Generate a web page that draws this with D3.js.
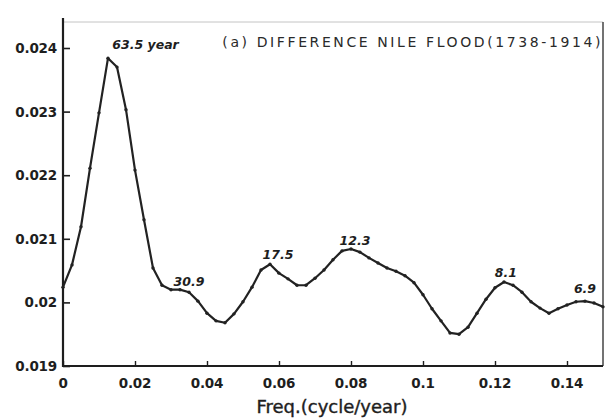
<!DOCTYPE html>
<html>
<head>
<meta charset="utf-8">
<script src="https://cdn.jsdelivr.net/npm/d3@7/dist/d3.min.js"></script>
<style>
  html, body { margin: 0; padding: 0; background: #fff; }
  svg { display: block; }
  .tick-label { font-family: "DejaVu Sans", sans-serif; font-weight: bold; font-size: 13.5px; fill: #1e1e1e; letter-spacing: -0.2px; }
  .peak-label { font-family: "DejaVu Sans", sans-serif; font-style: italic; font-weight: bold; font-size: 12.5px; fill: #1e1e1e; letter-spacing: 0px; }
</style>
</head>
<body>
<svg id="chart" width="605" height="418"></svg>
<script>
// Frequency grid (cycles/year) and spectral density of the differenced Nile flood series
const freqStep = 0.0025;
const power = [
  0.02024, 0.02059, 0.02119, 0.02211, 0.02298, 0.02384, 0.02370, 0.02303,
  0.02208, 0.02130, 0.02054, 0.02027, 0.02020, 0.02020, 0.02016, 0.02002,
  0.01983, 0.01971, 0.01968, 0.01982, 0.02001, 0.02024, 0.02051, 0.02060,
  0.02046, 0.02037, 0.02027, 0.02027, 0.02038, 0.02051, 0.02067, 0.02081,
  0.02084, 0.02079, 0.02070, 0.02062, 0.02054, 0.02049, 0.02042, 0.02031,
  0.02012, 0.01990, 0.01971, 0.01952, 0.01950, 0.01961, 0.01983, 0.02005,
  0.02023, 0.02032, 0.02027, 0.02016, 0.02001, 0.01991, 0.01983, 0.01990,
  0.01996, 0.02001, 0.02002, 0.01999, 0.01993
];
const freqs = power.map((_, i) => i * freqStep);

const xTicks = [0, 0.02, 0.04, 0.06, 0.08, 0.1, 0.12, 0.14];
const xTickLabels = ["0", "0.02", "0.04", "0.06", "0.08", "0.1", "0.12", "0.14"];
const yTicks = [0.019, 0.02, 0.021, 0.022, 0.023, 0.024];
const yTickLabels = ["0.019", "0.02", "0.021", "0.022", "0.023", "0.024"];

// Period labels (years) placed beside the spectral peaks
const peakLabels = ["63.5 year", "30.9", "17.5", "12.3", "8.1", "6.9"];
const peakFreqs = [0.0137, 0.0350, 0.0597, 0.0811, 0.1230, 0.1450];
const peakValues = [0.02399, 0.02026, 0.02068, 0.02090, 0.02040, 0.02015];

const svg = d3.select("#chart");
const margin = { left: 63, right: 2, top: 22, bottom: 52 };
const W = 605;

const x = d3.scaleLinear().domain([0, 0.15]).range([margin.left, W - margin.right]);
const y = d3.scaleLinear().domain([0.019, 0.024]).range([366, 48]);

const ink = "#1e1e1e";

// Frame: top and right borders
svg.append("line")
  .attr("x1", margin.left).attr("x2", x(0.15))
  .attr("y1", margin.top).attr("y2", margin.top)
  .attr("stroke", "#c4c4c4").attr("stroke-width", 1);
svg.append("line")
  .attr("x1", x(0.15)).attr("x2", x(0.15))
  .attr("y1", margin.top).attr("y2", y(0.019))
  .attr("stroke", "#444").attr("stroke-width", 1.5);

// Y axis with inward ticks
const yAxis = d3.axisRight(y)
  .tickValues(yTicks)
  .tickSize(7)
  .tickFormat(() => "");
const gy = svg.append("g").attr("transform", `translate(${margin.left},0)`).call(yAxis);
gy.select(".domain").remove();
gy.selectAll(".tick line").attr("stroke", ink).attr("stroke-width", 1.6);
svg.append("line")
  .attr("x1", margin.left).attr("x2", margin.left)
  .attr("y1", 18).attr("y2", y(0.019) + 1)
  .attr("stroke", ink).attr("stroke-width", 2.2);
svg.selectAll(".ylab").data(yTicks).enter().append("text")
  .attr("class", "tick-label")
  .attr("x", margin.left - 6)
  .attr("y", d => y(d) + 5)
  .attr("text-anchor", "end")
  .text((d, i) => yTickLabels[i]);

// X axis with small upward ticks
const xAxis = d3.axisTop(x)
  .tickValues(xTicks)
  .tickSize(5)
  .tickFormat(() => "");
const gx = svg.append("g").attr("transform", `translate(0,${y(0.019)})`).call(xAxis);
gx.select(".domain").remove();
gx.selectAll(".tick line").attr("stroke", ink).attr("stroke-width", 1.4);
svg.append("line")
  .attr("x1", margin.left - 1).attr("x2", x(0.15))
  .attr("y1", y(0.019)).attr("y2", y(0.019))
  .attr("stroke", ink).attr("stroke-width", 2);
svg.selectAll(".xlab").data(xTicks).enter().append("text")
  .attr("class", "tick-label")
  .attr("x", d => x(d))
  .attr("y", y(0.019) + 22)
  .attr("text-anchor", "middle")
  .text((d, i) => xTickLabels[i]);

svg.append("text")
  .attr("x", 332).attr("y", 413)
  .attr("text-anchor", "middle")
  .style("font-family", "DejaVu Sans, sans-serif")
  .style("font-size", "18px")
  .style("fill", ink)
  .style("stroke", ink)
  .style("stroke-width", "0.4px")
  .text("Freq.(cycle/year)");

// Title
svg.append("text")
  .attr("x", 603).attr("y", 47)
  .attr("text-anchor", "end")
  .style("font-family", "DejaVu Sans, sans-serif")
  .style("font-size", "14px")
  .style("letter-spacing", "2.6px")
  .style("fill", "#2a2a2a")
  .text("(a)  DIFFERENCE NILE FLOOD(1738-1914)");

// Spectrum curve
const line = d3.line()
  .x((d, i) => x(freqs[i]))
  .y(d => y(d));
svg.append("path")
  .datum(power)
  .attr("d", line)
  .attr("fill", "none")
  .attr("stroke", "#222")
  .attr("stroke-width", 2.2)
  .attr("stroke-linejoin", "round");
svg.selectAll(".pt").data(power).enter().append("circle")
  .attr("cx", (d, i) => x(freqs[i]))
  .attr("cy", d => y(d))
  .attr("r", 1.7)
  .attr("fill", "#222");

// Peak period labels
svg.selectAll(".peak").data(peakLabels).enter().append("text")
  .attr("class", "peak-label")
  .attr("x", (d, i) => x(peakFreqs[i]))
  .attr("y", (d, i) => y(peakValues[i]))
  .attr("text-anchor", (d, i) => i === 0 ? "start" : "middle")
  .text(d => d);
</script>
</body>
</html>
